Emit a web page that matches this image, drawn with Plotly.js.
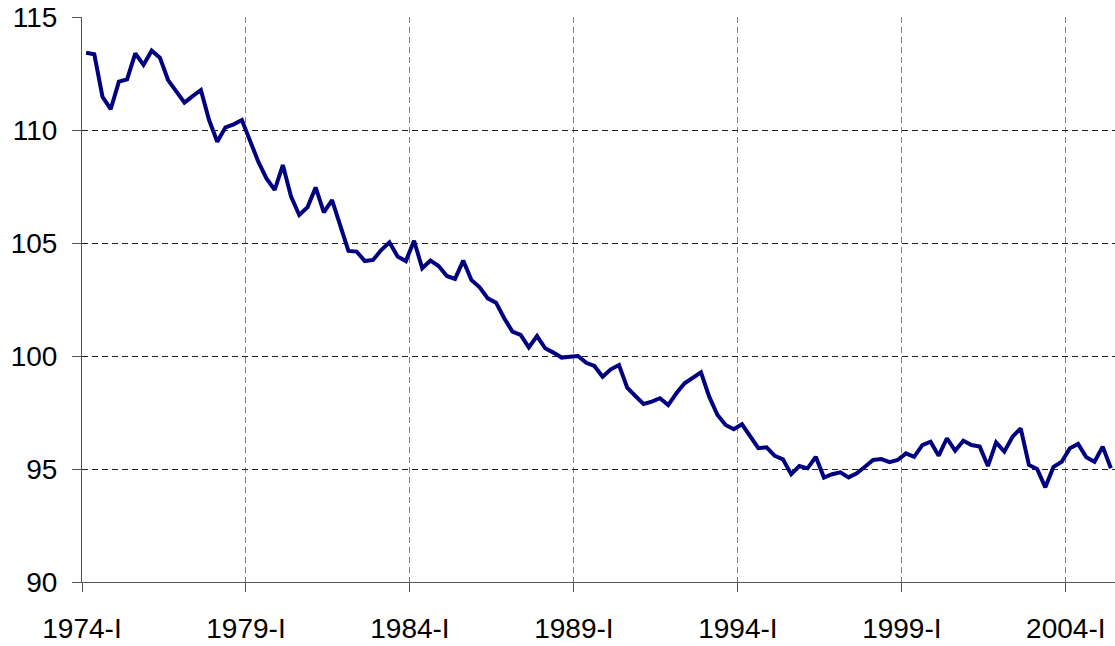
<!DOCTYPE html>
<html>
<head>
<meta charset="utf-8">
<script src="https://cdn.plot.ly/plotly-3.0.1.min.js"></script>
<style>html,body{margin:0;padding:0;background:#fff;}#chart{width:1115px;height:646px;}</style>
</head>
<body>
<div id="chart"></div>
<script>
// Quarterly index, 1974-I .. 2005-II
var values = [
113.42,113.35,111.47,110.92,112.14,112.24,113.39,112.88,113.51,113.2,
112.21,111.7,111.21,111.5,111.77,110.44,109.48,110.12,110.25,110.44,
109.5,108.6,107.86,107.35,108.45,107.05,106.24,106.58,107.46,106.36,
106.9,105.8,104.65,104.62,104.2,104.25,104.69,105.03,104.4,104.2,
105.1,103.88,104.22,103.98,103.54,103.41,104.22,103.36,103.04,102.55,
102.36,101.67,101.08,100.93,100.38,100.88,100.34,100.15,99.93,99.97,
100.0,99.7,99.56,99.08,99.41,99.6,98.6,98.23,97.88,97.98,
98.13,97.83,98.35,98.79,99.06,99.28,98.2,97.4,96.95,96.76,
96.98,96.43,95.92,95.96,95.58,95.43,94.77,95.13,95.03,95.54,
94.62,94.77,94.85,94.63,94.81,95.1,95.4,95.44,95.3,95.4,
95.69,95.54,96.06,96.21,95.59,96.36,95.81,96.25,96.06,95.99,
95.13,96.18,95.77,96.43,96.8,95.18,95.0,94.19,95.1,95.32,
95.92,96.11,95.52,95.32,95.99,95.03
];
var startYear = 1974;
var romans = ["I","II","III","IV"];
var quarters = values.map(function(v,i){
  return (startYear + Math.floor(i/4)) + "-" + romans[i%4];
});
var tickLabels = ["1974-I","1979-I","1984-I","1989-I","1994-I","1999-I","2004-I"];
var yTicks = [90,95,100,105,110,115];
var tickPositions = tickLabels.map(function(t){ return quarters.indexOf(t) - 0.5; });
var idx = values.map(function(v,i){ return i; });

var trace = {
  x: idx, y: values, type: 'scatter', mode: 'lines',
  text: quarters, hoverinfo: 'text+y',
  line: {color: '#000080', width: 4}
};
var font = {family: 'Liberation Sans, Arial, sans-serif', size: 28, color: '#000'};
var layout = {
  width: 1115, height: 646,
  margin: {l: 82, r: 0, t: 17, b: 64, pad: 0},
  paper_bgcolor: '#fff', plot_bgcolor: '#fff',
  showlegend: false,
  font: font,
  xaxis: {
    range: [-0.5, values.length - 0.5],
    tickmode: 'array', tickvals: tickPositions, ticktext: tickLabels,
    ticks: 'outside', ticklen: 9, tickcolor: '#555', tickwidth: 1,
    ticklabelstandoff: 12,
    showgrid: true, gridcolor: '#808080', gridwidth: 1, griddash: '6px,4px',
    showline: true, linecolor: '#555', linewidth: 1,
    zeroline: false, tickfont: font
  },
  yaxis: {
    range: [90, 115],
    tickmode: 'array', tickvals: yTicks,
    ticks: 'outside', ticklen: 9, tickcolor: '#555', tickwidth: 1,
    ticklabelstandoff: 9,
    showgrid: true, gridcolor: '#222', gridwidth: 1, griddash: '6px,4px',
    showline: true, linecolor: '#555', linewidth: 1,
    zeroline: false, tickfont: font
  }
};
Plotly.newPlot('chart', [trace], layout, {displayModeBar: false, staticPlot: true});
</script>
</body>
</html>
